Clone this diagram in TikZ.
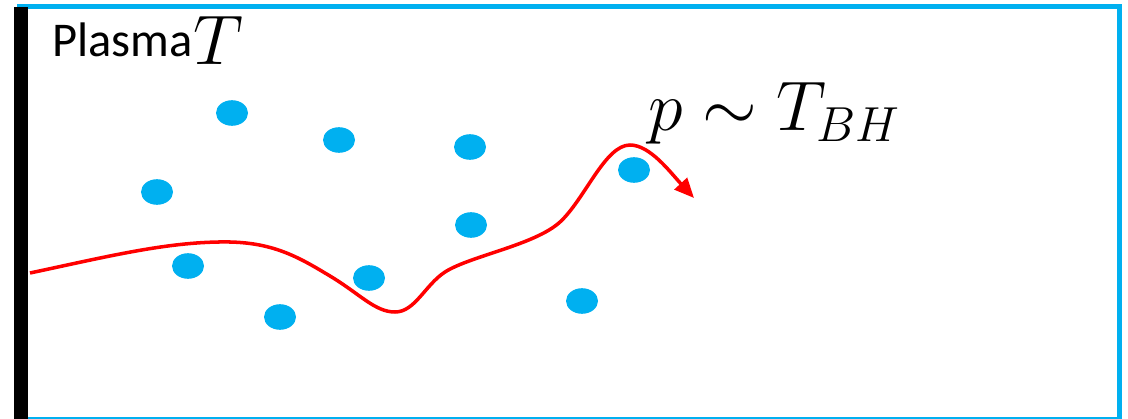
\RequirePackage{fix-cm}
\documentclass[tikz,border=0pt]{standalone}
\usepackage{fontspec}
\setsansfont{Carlito}
\usepackage{xcolor}
\usetikzlibrary{arrows.meta,shapes.geometric}
\definecolor{plasmablue}{HTML}{00B0F0}
\definecolor{trajred}{HTML}{FF0000}

\begin{document}
\begin{tikzpicture}[
  x=0.025cm, y=-0.025cm,
  dot/.style={ellipse, fill=plasmablue, minimum width=0.8cm, minimum height=0.64cm, inner sep=0pt},
  label/.style={anchor=base west, inner sep=0pt},
  traj/.style={trajred, line width=2.5pt, -{Triangle[length=14pt, width=12pt]}}
]
\useasboundingbox (0,0) rectangle (1128,419);
% box of plasma
\draw[plasmablue, line width=3.6pt] (20,6.5) rectangle (1119.5,419.5);
\fill[black] (14,7) rectangle (28,425);
% labels
\node[label, font=\sffamily\fontsize{34.5}{39}\selectfont] (plasma) at (52,57) {Plasma};
\node[label, font=\fontsize{50}{54}\selectfont] (temp) at (193,65) {$T$};
\node[label, font=\fontsize{50}{54}\selectfont] (mom) at (648,131) {$p\sim T_{BH}$};
% particles of the plasma
\foreach \px/\py [count=\i] in {232/113, 339/140, 470/147, 157/192, 634/170, 471/225, 188/266, 369/278, 582/301, 280/317}
  \node[dot] (d\i) at (\px,\py) {};
% trajectory
\draw[traj] (30,273) .. controls (110,256) and (170,241) .. (230,242)
  .. controls (275,243) and (300,258) .. (330,276)
  .. controls (360,294) and (375,312) .. (395,312)
  .. controls (415,312) and (425,285) .. (445,272)
  .. controls (470,256) and (535,245) .. (560,222)
  .. controls (585,199) and (605,145) .. (630,145)
  .. controls (650,145) and (670,172) .. (694,198);
\end{tikzpicture}
\end{document}
